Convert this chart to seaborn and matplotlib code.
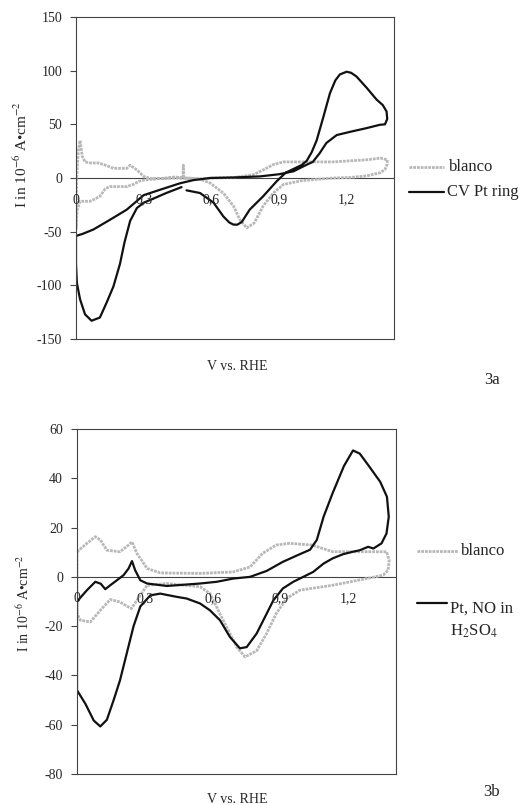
import pandas as pd
import matplotlib.pyplot as plt
import matplotlib.transforms as mtransforms
from matplotlib.lines import Line2D
import seaborn as sns

# --- datos (V vs. RHE, I en 10^-6 A/cm2) ---
# 3a: blanco
a_blanco_x = [0.0, 0.003, 0.010, 0.018, 0.028, 0.040, 0.063, 0.10, 0.13, 0.166, 0.20, 0.225,
              0.24, 0.27, 0.30, 0.34, 0.40, 0.44, 0.474, 0.476, 0.478, 0.50, 0.55, 0.60, 0.70,
              0.786, 0.83, 0.875, 0.92, 1.00, 1.14, 1.29, 1.35, 1.38, 1.38, 1.37, 1.35, 1.29,
              1.22, 1.14, 1.00, 0.92, 0.875, 0.83, 0.79, 0.757, 0.727, 0.698, 0.653, 0.594,
              0.55, 0.45, 0.36, 0.30, 0.28, 0.254, 0.225, 0.19, 0.15, 0.13, 0.106, 0.08, 0.062,
              0.04, 0.018, 0.005, 0.0, 0.0]
a_blanco_y = [-45, 0, 25, 35, 20, 15, 14, 14, 12, 9, 9, 9,
              12, 7.5, 1.5, -1, 0, 1, 0, 12, 0, 0, -1, 0, 0.5,
              3, 7.5, 12.5, 15, 15, 15, 17, 18.5, 17, 13, 8, 5, 2,
              0.5, 0, -2.5, -6, -14, -26, -42, -46.5, -39, -26, -14, -4.6,
              -1, 0, -0.5, -2, -3, -6, -8, -8, -8, -10, -17, -20, -21.7,
              -21.7, -21.7, -30, -48, -45]

# 3a: CV Pt ring (lazo principal y tramo corto antes del hueco)
a_pt_x = [0.49, 0.55, 0.61, 0.653, 0.68, 0.698, 0.715, 0.735, 0.77, 0.83, 0.89, 0.93, 0.97, 1.00,
          1.023, 1.045, 1.067, 1.097, 1.126, 1.15, 1.17, 1.20, 1.22, 1.244, 1.289, 1.333, 1.36, 1.377,
          1.38, 1.37, 1.348, 1.289, 1.215, 1.156, 1.11, 1.08, 1.05, 1.023, 0.964, 0.90,
          0.816, 0.70, 0.594, 0.52, 0.46, 0.372, 0.30, 0.225, 0.15, 0.077, 0.03, 0.0,
          0.0, 0.004, 0.018, 0.04, 0.069, 0.106, 0.136, 0.166, 0.195, 0.215, 0.24, 0.27,
          0.30, 0.34]
a_pt_y = [-11.5, -14, -23, -35.7, -41.5, -43.4, -43.5, -41, -29.5, -17, -3, 5, 9, 12,
          16, 24, 35, 57, 79, 91, 96.5, 99, 98, 94.5, 84, 73, 68, 62,
          55, 50, 49.6, 46.5, 43, 40, 32.6, 23, 15, 12.4, 6.2, 3.5,
          1.5, 0.5, 0, -2, -5, -11, -16, -29.5, -39, -48, -52, -54,
          -80, -98, -113, -127, -133, -130, -116, -101, -80, -60, -40, -28,
          -23, -19.5]
a_pt_seg_x = [0.34, 0.40, 0.468]
a_pt_seg_y = [-19.5, -14, -8.5]

# 3b: blanco
b_blanco_x = [0.0, 0.044, 0.081, 0.103, 0.132, 0.19, 0.228, 0.243, 0.265, 0.31, 0.368,
              0.544, 0.69, 0.765, 0.82, 0.88, 0.94, 1.04, 1.13, 1.28, 1.368, 1.38, 1.375,
              1.353, 1.28, 1.13, 0.985, 0.926, 0.88, 0.838, 0.794, 0.743, 0.706, 0.676,
              0.632, 0.588, 0.544, 0.397, 0.31, 0.265, 0.24, 0.19, 0.147, 0.103, 0.059,
              0.015, 0.0, 0.0]
b_blanco_y = [10.2, 13.6, 16.3, 15, 10.8, 10.2, 12.9, 14.2, 9.5, 3.4, 1.6,
              1.4, 2, 4, 9.5, 12.9, 13.6, 12.9, 10.2, 10.2, 10.2, 6.8, 2.7,
              0.7, -0.7, -3.4, -5.4, -8.8, -15, -23, -30, -32.5, -28.5, -23,
              -15, -6.8, -4, -2.7, -3.4, -9.5, -12.9, -10.2, -9.2, -13.6, -18.3,
              -17.6, -15, 10.2]

# 3b: Pt, NO in H2SO4
b_pt_x = [0.0, 0.044, 0.081, 0.105, 0.125, 0.147, 0.176, 0.206, 0.228, 0.243, 0.257,
          0.28, 0.31, 0.397, 0.544, 0.618, 0.69, 0.765, 0.838, 0.91, 0.985, 1.03, 1.06,
          1.09, 1.13, 1.18, 1.22, 1.25, 1.29, 1.34, 1.37, 1.378, 1.368, 1.346, 1.31,
          1.287, 1.25, 1.22, 1.176, 1.13, 1.09, 1.044, 1.0, 0.956, 0.91, 0.868, 0.838,
          0.794, 0.75, 0.72, 0.676, 0.632, 0.588, 0.544, 0.485, 0.44, 0.368, 0.324, 0.28,
          0.25, 0.22, 0.19, 0.162, 0.132, 0.103, 0.074, 0.037, 0.0, 0.0]
b_pt_y = [-10, -5.4, -2, -2.8, -5, -3.4, -1.4, 0.7, 3.4, 6.4, 2.7,
          -1.4, -2.7, -3.7, -2.7, -2, -0.7, 0, 2.4, 6.1, 9.2, 11, 15,
          24.4, 34, 45, 51.3, 50, 45, 38.6, 32.5, 24.4, 17.6, 13.6, 11.5,
          12.2, 10.8, 10.2, 9.2, 7.5, 5.4, 2, 0, -2, -4.7, -9.5, -15,
          -23, -28.5, -29, -24.4, -17.6, -13.6, -10.8, -8.8, -8.1, -6.8, -7.5, -12,
          -20, -31, -42, -50, -58, -60.7, -58.3, -51.5, -46, -10]

x_ticks = [0, 0.3, 0.6, 0.9, 1.2]
x_ticklabels = ["0", "0,3", "0,6", "0,9", "1,2"]
a_yticks = [-150, -100, -50, 0, 50, 100, 150]
b_yticks = [-80, -60, -40, -20, 0, 20, 40, 60]

# --- estilo ---
sns.set_style("white")
plt.rcParams["font.family"] = ["Liberation Serif", "DejaVu Serif"]
plt.rcParams["mathtext.fontset"] = "stix"

GRAY = "#b8b8b8"
BLACK = "#111111"
SPINE = "#444444"
blanco_style = dict(color=GRAY, linewidth=2.0, linestyle=(0, (1.0, 0.35)))
pt_style = dict(color=BLACK, linewidth=1.6)

W, H = 522, 805
fig = plt.figure(figsize=(W / 100, H / 100), dpi=100)
ax_a = fig.add_axes([76 / W, 1 - 339 / H, 318 / W, 322 / H])
ax_b = fig.add_axes([77 / W, 1 - 774 / H, 319 / W, 345 / H])


def draw_panel(ax, bx, by, segments, yticks):
    sns.lineplot(x=bx, y=by, sort=False, estimator=None, ax=ax, **blanco_style)
    for sx, sy in segments:
        sns.lineplot(x=sx, y=sy, sort=False, estimator=None, ax=ax, **pt_style)
    ax.axhline(0, color=SPINE, linewidth=0.8, zorder=0)
    ax.set_xlim(0, 1.41)
    ax.set_ylim(yticks[0], yticks[-1])
    ax.set_yticks(yticks)
    ax.set_yticklabels([str(v) for v in yticks], fontsize=10)
    ax.set_xticks([])
    ax.tick_params(axis="y", direction="out", length=4, width=0.8, color=SPINE, pad=6, left=True)
    for s in ax.spines.values():
        s.set_color(SPINE)
        s.set_linewidth(0.8)
    # etiquetas del eje x justo debajo de la linea de cero
    off = mtransforms.offset_copy(ax.transData, fig=fig, x=0, y=-22, units="dots")
    for xv, lab in zip(x_ticks, x_ticklabels):
        ax.text(xv, 0, lab, transform=off, ha="center", va="center", fontsize=10)
    ax.set_xlabel("")
    ax.set_ylabel("")


draw_panel(ax_a, a_blanco_x, a_blanco_y,
           [(a_pt_x, a_pt_y), (a_pt_seg_x, a_pt_seg_y)], a_yticks)
draw_panel(ax_b, b_blanco_x, b_blanco_y, [(b_pt_x, b_pt_y)], b_yticks)

ylab = "I in 10$^{-6}$ A\u2022cm$^{-2}$"
fig.text(21 / W, 1 - 155 / H, ylab, rotation=90, ha="center", va="center", fontsize=11)
fig.text(24 / W, 1 - 603 / H, ylab, rotation=90, ha="center", va="center", fontsize=10)

fig.text(237 / W, 1 - 366 / H, "V vs. RHE", ha="center", va="center", fontsize=10)
fig.text(237 / W, 1 - 799 / H, "V vs. RHE", ha="center", va="center", fontsize=10)
fig.text(492 / W, 1 - 380 / H, "3a", ha="center", va="center", fontsize=12)
fig.text(492 / W, 1 - 792 / H, "3b", ha="center", va="center", fontsize=12)


# leyendas a la derecha
def legend_entry(x0, x1, y, tx, label, style, ty=None):
    fig.add_artist(Line2D([x0 / W, x1 / W], [1 - y / H, 1 - y / H], **style))
    fig.text(tx / W, 1 - (ty if ty else y) / H, label, ha="left", va="center", fontsize=12)


legend_entry(409, 444, 167, 449, "blanco", blanco_style)
legend_entry(409, 444, 192, 447, "CV Pt ring", pt_style)
legend_entry(417, 458, 551, 461, "blanco", blanco_style)
legend_entry(417, 447, 603, 450, "Pt, NO in", pt_style, ty=609)
fig.text(450 / W, 1 - 631 / H, "H$_2$SO$_4$", ha="left", va="center", fontsize=12)

fig.savefig("out.png", dpi=100)
